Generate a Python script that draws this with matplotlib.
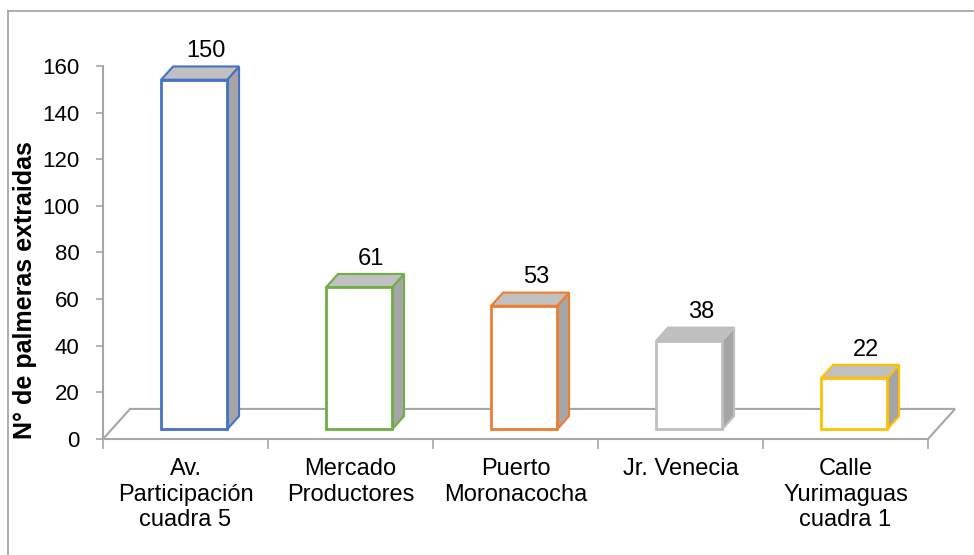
import matplotlib.pyplot as plt
from matplotlib.patches import Polygon
from matplotlib.lines import Line2D

plt.rcParams['font.family'] = ['Liberation Sans', 'DejaVu Sans']

lugares = ["Av.\nParticipación\ncuadra 5", "Mercado\nProductores", "Puerto\nMoronacocha",
           "Jr. Venecia", "Calle\nYurimaguas\ncuadra 1"]
palmeras = [150, 61, 53, 38, 22]
colores = ["#4472C4", "#70AD47", "#ED7D31", "#BFBFBF", "#FFC000"]
yticks = [0, 20, 40, 60, 80, 100, 120, 140, 160]

# perspectiva del suelo (en unidades de datos)
prof_x = 0.164
prof_y = 12.9
frente = 0.32   # fraccion de profundidad donde empieza la barra
fondo = 0.76    # fraccion donde termina
ancho = 0.40

fig = plt.figure(figsize=(9.74, 5.55), dpi=100)
ax = fig.add_axes([103 / 974, 116 / 555, 825 / 974, 373 / 555])
ax.set_xlim(-0.5, 4.5)
ax.set_ylim(0, 160)
for s in ax.spines.values():
    s.set_visible(False)

gris = "#A6A6A6"

# suelo
n = len(palmeras)
suelo = Polygon([(-0.5, 0), (n - 0.5, 0), (n - 0.5 + prof_x, prof_y), (-0.5 + prof_x, prof_y)],
                closed=True, facecolor="white", edgecolor=gris, lw=1.5, clip_on=False, zorder=1)
ax.add_patch(suelo)
ax.add_line(Line2D([-0.5, -0.5], [0, 160], color=gris, lw=1.5, clip_on=False, zorder=1))

# barras en falso 3D
for i, (v, c) in enumerate(zip(palmeras, colores)):
    x0 = i - ancho / 2 + frente * prof_x
    x1 = i + ancho / 2 + frente * prof_x
    y0 = frente * prof_y
    dx = (fondo - frente) * prof_x
    dy = (fondo - frente) * prof_y
    top = v + y0
    lado = Polygon([(x1, y0), (x1 + dx, y0 + dy), (x1 + dx, top + dy), (x1, top)],
                   facecolor="#A5A5A5", edgecolor=c, lw=1.5, zorder=3, clip_on=False)
    tapa = Polygon([(x0, top), (x1, top), (x1 + dx, top + dy), (x0 + dx, top + dy)],
                   facecolor="#C0C0C0", edgecolor=c, lw=1.5, zorder=3, clip_on=False)
    cara = Polygon([(x0, y0), (x1, y0), (x1, top), (x0, top)],
                   facecolor="white", edgecolor=c, lw=2, zorder=4, clip_on=False)
    ax.add_patch(lado)
    ax.add_patch(tapa)
    ax.add_patch(cara)
    ax.annotate(str(v), xy=(i + frente * prof_x + dx, top + dy), xytext=(0, 3),
                textcoords="offset points", ha="center", va="bottom", fontsize=17,
                annotation_clip=False)

# ejes
ax.set_yticks(yticks)
ax.tick_params(axis="y", length=5, width=1.2, color=gris, labelsize=16, pad=12)
ax.set_xticks([i - 0.5 for i in range(n + 1)])
ax.set_xticklabels([])
ax.tick_params(axis="x", which="major", length=7, width=1.2, color=gris)
ax.set_xticks(range(n), minor=True)
ax.set_xticklabels(lugares, minor=True, fontsize=17, linespacing=1.2)
ax.tick_params(axis="x", which="minor", length=0, pad=14)

ax.set_ylabel("N° de palmeras extraidas", fontsize=18, fontweight="bold")
ax.yaxis.set_label_coords(-0.080, 0.40)

# borde del grafico
fig.add_artist(Line2D([8 / 974, 8 / 974], [0, 1 - 11 / 555], color="#A0A0A0", lw=1.2))
fig.add_artist(Line2D([8 / 974, 1], [1 - 11 / 555, 1 - 11 / 555], color="#A0A0A0", lw=1.2))

fig.savefig("out.png", dpi=100)
